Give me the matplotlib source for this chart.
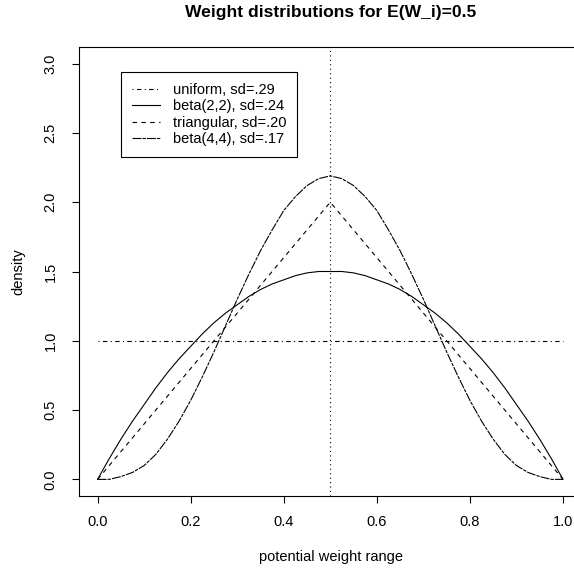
import matplotlib
matplotlib.use("Agg")
import matplotlib.pyplot as plt
import numpy as np

plt.rcParams['font.family'] = ['Liberation Sans', 'DejaVu Sans']

# densities
x_grid = [i * 0.025 for i in range(41)]
uniform_x = [0.0, 1.0]
uniform_y = [1.0, 1.0]
beta22_y = [0.00, 0.15, 0.29, 0.42, 0.54, 0.66, 0.77, 0.87, 0.96, 1.05, 1.13,
            1.20, 1.26, 1.32, 1.37, 1.41, 1.44, 1.47, 1.49, 1.50, 1.50,
            1.50, 1.49, 1.47, 1.44, 1.41, 1.37, 1.32, 1.26, 1.20, 1.13,
            1.05, 0.96, 0.87, 0.77, 0.66, 0.54, 0.42, 0.29, 0.15, 0.00]
tri_x = [0.0, 0.5, 1.0]
tri_y = [0.0, 2.0, 0.0]
beta44_y = [0.00, 0.00, 0.02, 0.05, 0.10, 0.18, 0.29, 0.42, 0.57, 0.74, 0.92,
            1.11, 1.30, 1.48, 1.65, 1.80, 1.94, 2.04, 2.12, 2.17, 2.19,
            2.17, 2.12, 2.04, 1.94, 1.80, 1.65, 1.48, 1.30, 1.11, 0.92,
            0.74, 0.57, 0.42, 0.29, 0.18, 0.10, 0.05, 0.02, 0.00, 0.00]
mean_w = 0.5
labels = ["uniform, sd=.29", "beta(2,2), sd=.24", "triangular, sd=.20", "beta(4,4), sd=.17"]

W, H = 574, 571
fig = plt.figure(figsize=(W / 100, H / 100), dpi=100)
ax = fig.add_axes([79 / W, 75 / H, 502.6 / W, 449 / H])

lw = 0.8
fs = 10.5
ax.plot(uniform_x, uniform_y, color="black", lw=lw, dashes=(1, 3, 4, 3), label=labels[0])
ax.plot(x_grid, beta22_y, color="black", lw=lw, label=labels[1])
ax.plot(tri_x, tri_y, color="black", lw=lw, dashes=(4, 4), label=labels[2])
ax.plot(x_grid, beta44_y, color="black", lw=lw, dashes=(8, 1, 3, 1), label=labels[3])
ax.axvline(mean_w, color="black", lw=lw, dashes=(1, 3))

ax.set_xlim(-0.04, 1.04)
ax.set_ylim(-0.12, 3.12)
ax.set_xticks([0.0, 0.2, 0.4, 0.6, 0.8, 1.0])
ax.set_yticks([0.0, 0.5, 1.0, 1.5, 2.0, 2.5, 3.0])
ax.set_xticklabels(["0.0", "0.2", "0.4", "0.6", "0.8", "1.0"])
ax.set_yticklabels(["0.0", "0.5", "1.0", "1.5", "2.0", "2.5", "3.0"], rotation=90, va="center")
ax.tick_params(length=5, width=0.8, labelsize=fs)
ax.tick_params(axis="x", pad=8.5)
ax.tick_params(axis="y", pad=10.5)
for s in ax.spines.values():
    s.set_linewidth(0.8)

fig.text(331 / W, 1 - 13 / H, "Weight distributions for E(W_i)=0.5",
         ha="center", va="center", fontsize=12.6, fontweight="bold")
fig.text(331 / W, 1 - 557 / H, "potential weight range", ha="center", va="center", fontsize=fs)
fig.text(18 / W, 1 - 272 / H, "density", ha="center", va="center", fontsize=fs, rotation=90)

leg = ax.legend(loc="upper left", bbox_to_anchor=(121 / W, 1 - 72 / H),
                bbox_transform=fig.transFigure, fontsize=fs, frameon=True,
                fancybox=False, framealpha=1, edgecolor="black",
                handlelength=1.9, handletextpad=0.9, labelspacing=0.16,
                borderpad=0.75, borderaxespad=0)
leg.get_frame().set_linewidth(0.8)

fig.savefig("out.png", dpi=100)
